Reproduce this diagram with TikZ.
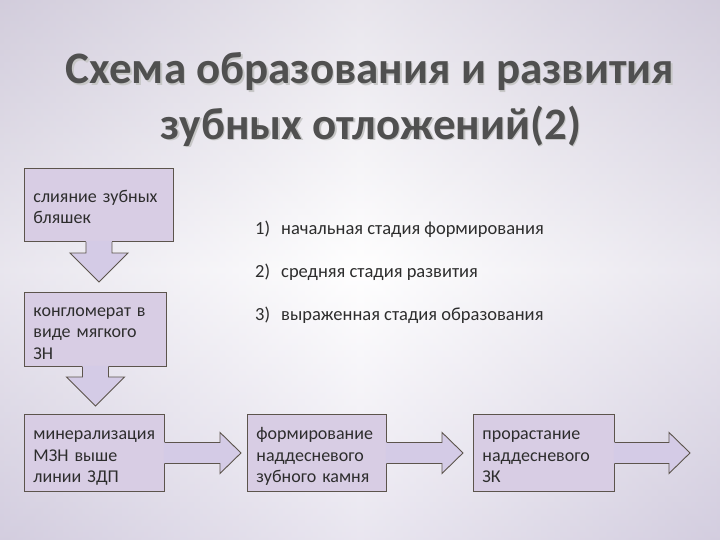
\documentclass[tikz,border=0pt]{standalone}
\usepackage{fontspec}
\setmainfont{Carlito}
\usetikzlibrary{calc}
\definecolor{BgTop}{RGB}{214,209,222}
\definecolor{BgBot}{RGB}{216,210,228}
\definecolor{BgSide}{RGB}{206,200,218}
\definecolor{BoxFill}{RGB}{216,205,228}
\definecolor{BoxLine}{RGB}{92,84,76}
\definecolor{ArrFill}{RGB}{212,203,230}
\definecolor{TitleGray}{RGB}{80,80,80}
\definecolor{TextGray}{RGB}{45,45,45}

% block arrows: #1 = start anchor, #2 = tip
\newcommand\blkdown[2]{%
  \fill[ArrFill] let \p1=(#1), \p2=(#2) in
    (\x1-13pt,\y1+1pt) -- (\x1-13pt,\y2+29pt) -- (\x1-29pt,\y2+29pt)
    -- (\x1,\y2) -- (\x1+29pt,\y2+29pt) -- (\x1+13pt,\y2+29pt)
    -- (\x1+13pt,\y1+1pt) -- cycle;
  \draw[blkline] let \p1=(#1), \p2=(#2) in
    (\x1-13pt,\y1) -- (\x1-13pt,\y2+29pt) -- (\x1-29pt,\y2+29pt)
    -- (\x1,\y2) -- (\x1+29pt,\y2+29pt) -- (\x1+13pt,\y2+29pt)
    -- (\x1+13pt,\y1);}
\newcommand\blkright[2]{%
  \fill[ArrFill] let \p1=(#1), \p2=(#2) in
    (\x1-1pt,\y1+10.5pt) -- (\x2-21pt,\y1+10.5pt) -- (\x2-21pt,\y1+20.5pt)
    -- (\x2,\y1) -- (\x2-21pt,\y1-20.5pt) -- (\x2-21pt,\y1-10.5pt)
    -- (\x1-1pt,\y1-10.5pt) -- cycle;
  \draw[blkline] let \p1=(#1), \p2=(#2) in
    (\x1,\y1+10.5pt) -- (\x2-21pt,\y1+10.5pt) -- (\x2-21pt,\y1+20.5pt)
    -- (\x2,\y1) -- (\x2-21pt,\y1-20.5pt) -- (\x2-21pt,\y1-10.5pt)
    -- (\x1,\y1-10.5pt);}

\begin{document}
\begin{tikzpicture}[x=1pt, y=-1pt,
    stg/.style={rectangle, draw=BoxLine, fill=BoxFill, line width=0.9pt,
                anchor=north west, inner xsep=9pt, inner ysep=0pt,
                align=left, text=TextGray,
                font=\fontsize{18}{21.5}\selectfont,
                execute at begin node={\rule{0pt}{23pt}},
                execute at end node=\strut},
    blkline/.style={draw=BoxLine, line width=0.9pt, line join=miter},
    ttl/.style={font=\fontsize{45}{52}\selectfont\bfseries, text=TitleGray},
    ttlshadow/.style={font=\fontsize{45}{52}\selectfont\bfseries, text=black!22},
    itm/.style={anchor=west, inner sep=0pt, text=TextGray,
                font=\fontsize{18.5}{22}\selectfont}
  ]
  \useasboundingbox (0,0) rectangle (720,540);
  % background
  \shade[top color=BgTop, bottom color=BgBot, middle color=white]
        (0,0) rectangle (720,540);
  \shade[left color=BgSide, right color=BgSide, middle color=white, opacity=0.45]
        (0,0) rectangle (720,540);

  % title
  \node[ttlshadow] (ts1) at (371.5,73.5) {Схема образования и развития};
  \node[ttlshadow] (ts2) at (372.5,127.5) {зубных отложений(2)};
  \node[ttl] (t1) at (370,72) {Схема образования и развития};
  \node[ttl] (t2) at (371,126) {зубных отложений(2)};

  % stages
  \node[stg, text width=131pt, minimum height=73pt] (s1) at (24,168)
        {слияние зубных\\бляшек};
  \node[stg, text width=124pt, minimum height=74pt] (s2) at (24,292)
        {конгломерат в\\виде мягкого\\ЗН};
  \node[stg, text width=122pt, minimum height=77pt] (s3) at (24,414)
        {минерализация\\МЗН выше\\линии ЗДП};
  \node[stg, text width=121pt, minimum height=77pt] (s4) at (247,414)
        {формирование\\наддесневого\\зубного камня};
  \node[stg, text width=123pt, minimum height=77pt] (s5) at (473,414)
        {прорастание\\наддесневого\\ЗК};
  \coordinate (sEnd) at (690,452.5);

  % phases
  \node[itm] (l1) at (255,229) {\makebox[26pt][l]{1)}начальная стадия формирования};
  \node[itm] (l2) at (255,272) {\makebox[26pt][l]{2)}средняя стадия развития};
  \node[itm] (l3) at (255,315) {\makebox[26pt][l]{3)}выраженная стадия образования};

  % block arrows
  \blkdown{s1.south}{$(s2.north)+(0,-10)$}
  \blkdown{s2.south}{$(s3.north)+(0,-8)$}
  \blkright{s3.east}{$(s4.west)+(-6,0)$}
  \blkright{s4.east}{$(s5.west)+(-10,0)$}
  \blkright{s5.east}{sEnd}
\end{tikzpicture}
\end{document}
